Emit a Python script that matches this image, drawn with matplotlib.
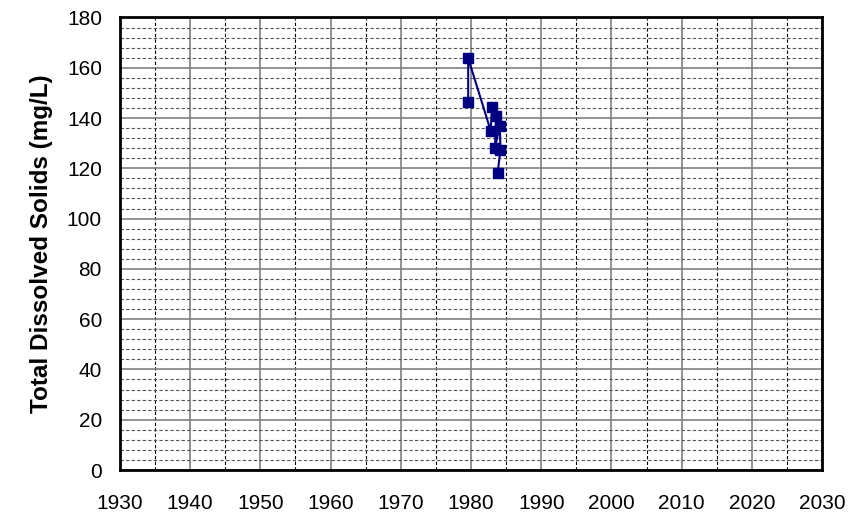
import matplotlib.pyplot as plt
from matplotlib.ticker import MultipleLocator

# Sample data
years = [1979.6, 1979.6, 1982.8, 1983.0, 1983.6, 1983.4, 1984.1, 1984.2, 1983.8]
tds = [146.5, 163.8, 135.0, 144.5, 141.0, 128.0, 137.0, 127.3, 118.3]

plt.rcParams['font.family'] = ['Liberation Sans', 'DejaVu Sans']

fig = plt.figure(figsize=(8.65, 5.17), dpi=100)
ax = fig.add_axes([0.1387, 0.0909, 0.8116, 0.8753])

ax.plot(years, tds, color='#000080', marker='s', markersize=7, linewidth=1.5, zorder=3)

ax.set_xlim(1930, 2030)
ax.set_ylim(0, 180)
ax.xaxis.set_major_locator(MultipleLocator(10))
ax.xaxis.set_minor_locator(MultipleLocator(5))
ax.yaxis.set_major_locator(MultipleLocator(20))
ax.yaxis.set_minor_locator(MultipleLocator(4))

ax.grid(which='major', color='#808080', linewidth=1.2, linestyle='-')
ax.grid(which='minor', axis='y', color='#555555', linewidth=0.8, linestyle=(0, (3, 2)))
ax.grid(which='minor', axis='x', color='black', linewidth=0.8, linestyle=(0, (3, 2)))
ax.set_axisbelow(True)

ax.tick_params(which='both', length=0, labelsize=15)
ax.tick_params(axis='y', pad=13)
ax.tick_params(axis='x', pad=17)

for s in ax.spines.values():
    s.set_linewidth(2)
    s.set_color('black')

ax.set_ylabel('Total Dissolved Solids (mg/L)', fontsize=17.5, fontweight='bold', labelpad=10)

plt.savefig('out.png', dpi=100)
